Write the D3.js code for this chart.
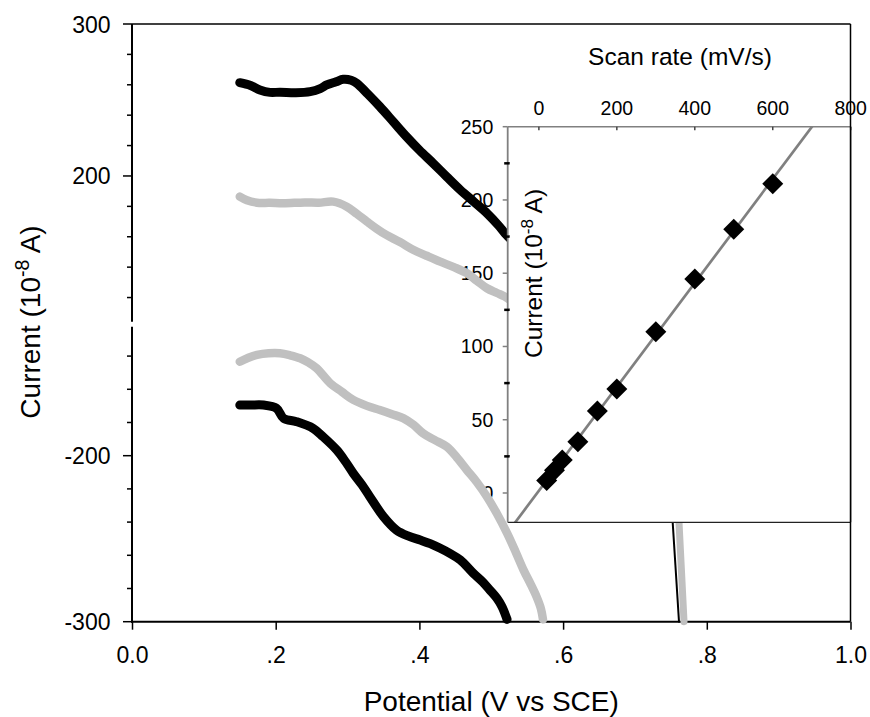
<!DOCTYPE html>
<html>
<head>
<meta charset="utf-8">
<script src="https://cdn.jsdelivr.net/npm/d3@7/dist/d3.min.js"></script>
<style>
  body { margin: 0; background: #fff; }
  text { font-family: "Liberation Sans", Arial, sans-serif; fill: #000; }
</style>
</head>
<body>
<svg id="chart" width="870" height="717"></svg>
<script>
// ---------------- DATA ----------------
// Main plot: cyclic voltammograms (potential V vs SCE, current 1e-8 A)
const blackUpperE = [0.150, 0.165, 0.178, 0.192, 0.206, 0.228, 0.248, 0.262, 0.271, 0.284, 0.294, 0.305, 0.313, 0.328, 0.345, 0.364, 0.382, 0.400, 0.419, 0.438, 0.457, 0.476, 0.494, 0.510, 0.519, 0.530];
const blackUpperI = [261.4, 259.5, 256.6, 255.0, 255.1, 254.8, 255.5, 257.5, 259.9, 262.0, 263.6, 263.0, 261.0, 254.0, 245.6, 235.5, 225.9, 217.0, 208.4, 199.5, 190.8, 183.0, 175.5, 167.5, 162.3, 157.0];

const grayUpperE = [0.150, 0.160, 0.174, 0.192, 0.211, 0.240, 0.260, 0.280, 0.299, 0.313, 0.327, 0.340, 0.354, 0.373, 0.392, 0.410, 0.429, 0.448, 0.466, 0.480, 0.494, 0.508, 0.519, 0.530];
const grayUpperI = [186.4, 184.0, 182.4, 182.3, 182.0, 182.6, 182.4, 183.1, 179.8, 175.0, 170.0, 165.5, 161.2, 156.5, 151.3, 147.5, 143.6, 140.0, 136.0, 131.0, 126.1, 123.0, 120.6, 117.0];

const blackLowerE = [0.150, 0.165, 0.183, 0.201, 0.211, 0.229, 0.252, 0.266, 0.285, 0.297, 0.308, 0.320, 0.331, 0.350, 0.368, 0.385, 0.401, 0.415, 0.429, 0.443, 0.457, 0.475, 0.488, 0.498, 0.508, 0.515, 0.522];
const blackLowerI = [-169.5, -169.5, -169.5, -171.4, -177.5, -179.5, -183.5, -188.6, -196.6, -203.5, -210.6, -217.5, -224.7, -236.7, -244.8, -248.5, -250.8, -253.0, -255.8, -259.0, -262.8, -270.8, -276.0, -280.9, -286.0, -291.0, -298.6];

const grayLowerE = [0.150, 0.162, 0.174, 0.190, 0.206, 0.220, 0.234, 0.246, 0.257, 0.276, 0.292, 0.308, 0.327, 0.345, 0.362, 0.378, 0.392, 0.405, 0.421, 0.438, 0.452, 0.466, 0.480, 0.494, 0.508, 0.522, 0.534, 0.545, 0.555, 0.563, 0.569, 0.572];
const grayLowerI = [-143.4, -141.0, -139.3, -138.3, -138.3, -139.5, -141.3, -144.0, -147.3, -156.4, -161.5, -166.4, -170.0, -172.5, -175.0, -177.5, -181.5, -186.5, -190.5, -194.6, -201.0, -208.6, -216.0, -224.7, -235.0, -246.7, -258.0, -268.9, -277.5, -284.9, -292.0, -298.6];

// Steep return segments (visible below the inset)
const blackTailE = [0.7466, 0.7525, 0.7613];
const blackTailI = [-200, -240, -300];
const grayTailE = [0.7566, 0.7613, 0.7683];
const grayTailI = [-200, -240, -300];

// Inset: peak current vs scan rate
const scanRate = [20, 40, 60, 100, 150, 200, 300, 400, 500, 600];
const peakCurrent = [8.5, 15.5, 22.5, 35, 56, 71, 110, 146, 180, 211];

// Tick labels
const xTickValues = [0, 0.2, 0.4, 0.6, 0.8, 1.0];
const xTickLabels = ["0.0", ".2", ".4", ".6", ".8", "1.0"];
const yUpperMajor = [200, 300];
const yUpperMinor = [120, 140, 160, 180, 220, 240, 260, 280];
const yLowerMajor = [-300, -200];
const yLowerMinor = [-280, -260, -240, -220, -180, -160, -140];
const insetXTicks = [0, 200, 400, 600, 800];
const insetYMajor = [0, 50, 100, 150, 200, 250];
const insetYMinor = [25, 75, 125, 175, 225];

// ---------------- LAYOUT ----------------
const svg = d3.select("#chart");
const L = 132, R = 850.5, T = 24, B = 621.7;
const breakTop = 321.7, breakBot = 326.7;

const x = d3.scaleLinear().domain([0, 1]).range([L, R]);
const yUp = d3.scaleLinear().domain([104.1, 300]).range([breakTop, T]);
const yLo = d3.scaleLinear().domain([-300, -122.3]).range([B, breakBot]);

const inL = 507.7, inR = 850.7, inT = 126.7, inB = 522.3;
const ix = d3.scaleLinear().domain([-80, 800]).range([inL, inR]);
const iy = d3.scaleLinear().domain([-20, 250]).range([inB, inT]);

const tickFont = 23, titleFont = 28, inTickFont = 19.5, inTitleFont = 24.5;

// ---------------- MAIN AXES ----------------
const gAx = svg.append("g");
gAx.append("line").attr("x1", L).attr("x2", L).attr("y1", T).attr("y2", breakTop)
  .attr("stroke", "#000").attr("stroke-width", 2);
gAx.append("line").attr("x1", L).attr("x2", L).attr("y1", breakBot).attr("y2", B + 1)
  .attr("stroke", "#000").attr("stroke-width", 2);
gAx.append("line").attr("x1", L - 1).attr("x2", R).attr("y1", B).attr("y2", B)
  .attr("stroke", "#000").attr("stroke-width", 2);
gAx.append("line").attr("x1", L).attr("x2", R).attr("y1", T).attr("y2", T)
  .attr("stroke", "#000").attr("stroke-width", 1.5);

function yTick(scale, v, len) {
  gAx.append("line").attr("x1", L - len).attr("x2", L).attr("y1", scale(v)).attr("y2", scale(v))
    .attr("stroke", "#000").attr("stroke-width", 1.5);
}
yUpperMajor.forEach(v => yTick(yUp, v, 9));
yUpperMinor.forEach(v => yTick(yUp, v, 5));
yLowerMajor.forEach(v => yTick(yLo, v, 9));
yLowerMinor.forEach(v => yTick(yLo, v, 5));

yUpperMajor.forEach(v => gAx.append("text").attr("x", 110.5).attr("y", yUp(v) + 8.5)
  .attr("text-anchor", "end").attr("font-size", tickFont).text(String(v)));
yLowerMajor.forEach(v => gAx.append("text").attr("x", 110.5).attr("y", yLo(v) + 8.5)
  .attr("text-anchor", "end").attr("font-size", tickFont).text(String(v)));

const xAxis = d3.axisBottom(x).tickValues(xTickValues).tickSize(8)
  .tickFormat((d, i) => xTickLabels[i]);
const gx = svg.append("g").attr("transform", `translate(0,${B})`).call(xAxis);
gx.select(".domain").remove();
gx.selectAll(".tick line").attr("stroke", "#000").attr("stroke-width", 1.5);
gx.selectAll(".tick text").attr("font-size", tickFont).attr("dy", null).attr("y", 41.5)
  .attr("font-family", "Liberation Sans, Arial, sans-serif").attr("fill", "#000");

svg.append("text").attr("x", (L + R) / 2).attr("y", 711).attr("text-anchor", "middle")
  .attr("font-size", titleFont).text("Potential (V vs SCE)");
const yt = svg.append("text").attr("transform", "translate(40,322) rotate(-90)")
  .attr("text-anchor", "middle").attr("font-size", titleFont);
yt.append("tspan").text("Current (10");
yt.append("tspan").attr("font-size", titleFont * 0.7).attr("dy", -11).text("-8");
yt.append("tspan").attr("dy", 11).text(" A)");

// ---------------- INSET Y TICK LABELS (under the curves) ----------------
insetYMajor.forEach(v => svg.append("text").attr("x", 493.3).attr("y", iy(v) + 7)
  .attr("text-anchor", "end").attr("font-size", inTickFont).text(String(v)));

// ---------------- MAIN CURVES ----------------
function curve(E, I, scale, color, width) {
  const pts = E.map((e, i) => [x(e), scale(I[i])]);
  svg.append("path").attr("d", d3.line().curve(d3.curveCatmullRom)(pts))
    .attr("fill", "none").attr("stroke", color).attr("stroke-width", width)
    .attr("stroke-linecap", "round").attr("stroke-linejoin", "round");
}
curve(grayUpperE, grayUpperI, yUp, "#c0c0c0", 8.5);
curve(blackUpperE, blackUpperI, yUp, "#000", 9);
curve(grayLowerE, grayLowerI, yLo, "#c0c0c0", 8.5);
curve(blackLowerE, blackLowerI, yLo, "#000", 9);
curve(grayTailE, grayTailI, yLo, "#c0c0c0", 7);
curve(blackTailE, blackTailI, yLo, "#000", 2);

// ---------------- INSET ----------------
svg.append("rect").attr("x", inL).attr("y", inT).attr("width", inR - inL).attr("height", inB - inT)
  .attr("fill", "#fff");
svg.append("defs").append("clipPath").attr("id", "inclip").append("rect")
  .attr("x", inL).attr("y", inT).attr("width", inR - inL).attr("height", inB - inT);

const mx = d3.mean(scanRate), my = d3.mean(peakCurrent);
const slope = d3.sum(scanRate.map((s, i) => (s - mx) * (peakCurrent[i] - my))) /
              d3.sum(scanRate.map(s => (s - mx) * (s - mx)));
const icpt = my - slope * mx;
const fitX = ix.domain();
svg.append("line").attr("clip-path", "url(#inclip)")
  .attr("x1", ix(fitX[0])).attr("y1", iy(icpt + slope * fitX[0]))
  .attr("x2", ix(fitX[1])).attr("y2", iy(icpt + slope * fitX[1]))
  .attr("stroke", "#808080").attr("stroke-width", 2.7);

const diamond = d3.symbol().type(d3.symbolSquare).size(220);
svg.append("g").selectAll("path").data(scanRate).join("path")
  .attr("d", diamond)
  .attr("transform", (d, i) => `translate(${ix(d)},${iy(peakCurrent[i])}) rotate(45)`)
  .attr("fill", "#000");

svg.append("line").attr("x1", inL).attr("x2", inR).attr("y1", inB).attr("y2", inB)
  .attr("stroke", "#222").attr("stroke-width", 1.2);
svg.append("line").attr("x1", inR).attr("x2", inR).attr("y1", inT).attr("y2", inB)
  .attr("stroke", "#222").attr("stroke-width", 1.2);
svg.append("line").attr("x1", inL).attr("x2", inR).attr("y1", inT).attr("y2", inT)
  .attr("stroke", "#808080").attr("stroke-width", 1.5);
svg.append("line").attr("x1", inL).attr("x2", inL).attr("y1", inT).attr("y2", inB)
  .attr("stroke", "#808080").attr("stroke-width", 1.8);

insetYMajor.forEach(v => svg.append("line").attr("x1", inL - 5).attr("x2", inL)
  .attr("y1", iy(v)).attr("y2", iy(v)).attr("stroke", "#808080").attr("stroke-width", 1.5));
insetYMinor.forEach(v => svg.append("line").attr("x1", inL - 3.5).attr("x2", inL + 2)
  .attr("y1", iy(v)).attr("y2", iy(v)).attr("stroke", "#000").attr("stroke-width", 2.5));

insetXTicks.forEach(v => {
  svg.append("line").attr("x1", ix(v)).attr("x2", ix(v)).attr("y1", inT).attr("y2", inT + 3.5)
    .attr("stroke", "#444").attr("stroke-width", 1.5);
  svg.append("text").attr("x", ix(v)).attr("y", 115).attr("text-anchor", "middle")
    .attr("font-size", inTickFont).text(String(v));
});

svg.append("text").attr("x", 680).attr("y", 65).attr("text-anchor", "middle")
  .attr("font-size", inTitleFont).text("Scan rate (mV/s)");
const it = svg.append("text").attr("transform", "translate(542,273.5) rotate(-90)")
  .attr("text-anchor", "middle").attr("font-size", inTitleFont);
it.append("tspan").text("Current (10");
it.append("tspan").attr("font-size", inTitleFont * 0.7).attr("dy", -9).text("-8");
it.append("tspan").attr("dy", 9).text(" A)");

svg.append("line").attr("x1", R).attr("x2", R).attr("y1", T).attr("y2", B)
  .attr("stroke", "#000").attr("stroke-width", 1.5);
</script>
</body>
</html>
